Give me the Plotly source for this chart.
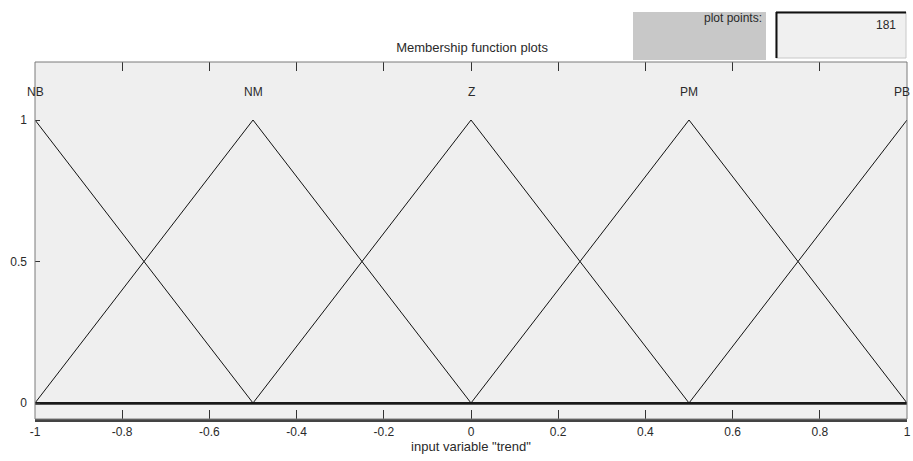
import plotly.graph_objects as go

# Membership functions (triangular) of input variable "trend"
mf_names = ["NB", "NM", "Z", "PM", "PB"]
mf_peaks = [-1.0, -0.5, 0.0, 0.5, 1.0]
# vertices of each membership curve over the input range [-1, 1]
mf_x = [
    [-1.0, -0.5, 1.0],
    [-1.0, -0.5, 0.0, 1.0],
    [-1.0, -0.5, 0.0, 0.5, 1.0],
    [-1.0, 0.0, 0.5, 1.0],
    [-1.0, 0.5, 1.0],
]
mf_y = [
    [1, 0, 0],
    [0, 1, 0, 0],
    [0, 0, 1, 0, 0],
    [0, 0, 1, 0],
    [0, 0, 1],
]
x_ticks = [-1, -0.8, -0.6, -0.4, -0.2, 0, 0.2, 0.4, 0.6, 0.8, 1]
x_tick_text = ["-1", "-0.8", "-0.6", "-0.4", "-0.2", "0", "0.2", "0.4", "0.6", "0.8", "1"]
y_ticks = [0, 0.5, 1]
y_tick_text = ["0", "0.5", "1"]
plot_points = 181

FONT = "Liberation Sans, Arial, sans-serif"
TXT = "#2a2a2a"

fig = go.Figure()
for name, xs, ys in zip(mf_names, mf_x, mf_y):
    fig.add_trace(go.Scatter(x=xs, y=ys, mode="lines", name=name,
                             line=dict(color="#111111", width=1), showlegend=False,
                             hoverinfo="skip", cliponaxis=False))
# invisible trace for top mirrored ticks
fig.add_trace(go.Scatter(x=[x_ticks[0], x_ticks[-1]], y=[0, 0], xaxis="x2", mode="lines",
                         line=dict(width=0), showlegend=False, hoverinfo="skip"))

for i, (name, pk) in enumerate(zip(mf_names, mf_peaks)):
    shift = -5 if i == len(mf_names) - 1 else 0
    fig.add_annotation(x=pk, y=1.1, text=name, showarrow=False, xanchor="center",
                       yanchor="middle", xshift=shift,
                       font=dict(family=FONT, size=12, color=TXT))

fig.update_layout(
    width=913, height=461,
    margin=dict(l=35, r=6, t=62, b=42, autoexpand=False),
    paper_bgcolor="white",
    plot_bgcolor="#efefef",
    font=dict(family=FONT, size=12, color=TXT),
    xaxis=dict(range=[-1, 1], tickvals=x_ticks, ticktext=x_tick_text,
               ticks="inside", ticklen=9, tickcolor="#333", tickwidth=1,
               showgrid=False, zeroline=False, showline=True, linecolor="#444",
               linewidth=3, mirror=False, automargin=False,
               tickfont=dict(family=FONT, size=12, color=TXT),
               title=dict(text='input variable "trend"', standoff=4,
                          font=dict(family=FONT, size=13, color=TXT))),
    xaxis2=dict(range=[-1, 1], overlaying="x", side="top", tickvals=x_ticks,
                showticklabels=False, ticks="inside", ticklen=9, tickcolor="#333",
                showgrid=False, zeroline=False, showline=False, automargin=False),
    yaxis=dict(range=[-0.0565, 1.205], tickvals=y_ticks, ticktext=y_tick_text,
               ticks="inside", ticklen=5, tickcolor="#333", automargin=False,
               ticklabelstandoff=7,
               tickfont=dict(family=FONT, size=12, color=TXT),
               showgrid=False, zeroline=True, zerolinecolor="#555", zerolinewidth=2.5,
               showline=False),
    title=dict(text="Membership function plots", x=0.517, xanchor="center",
               y=1 - 47 / 461, yanchor="middle", font=dict(family=FONT, size=13, color=TXT)),
)

# plot frame (thin gray border on left, top, right)
fig.add_shape(type="rect", xref="paper", yref="paper", x0=0, x1=1, y0=0, y1=1,
              line=dict(color="#7a7a7a", width=1), layer="above")

# "plot points:" gray label box and input field (in paper coordinates)
W, H = 913 - 35 - 6, 461 - 62 - 42
def px(x):
    return (x - 35) / W
def py(y):
    return (461 - 42 - y) / H

fig.add_shape(type="rect", xref="paper", yref="paper", x0=px(633), x1=px(766),
              y0=py(60), y1=py(12), fillcolor="#c8c8c8", line=dict(width=0))
fig.add_annotation(xref="paper", yref="paper", x=px(764), y=py(18), text="plot points:",
                   showarrow=False, xanchor="right", yanchor="middle",
                   font=dict(family=FONT, size=12, color=TXT))
fig.add_shape(type="rect", xref="paper", yref="paper", x0=px(776), x1=px(906),
              y0=py(58), y1=py(12), fillcolor="#f0f0f0", line=dict(color="#c8c8c8", width=1))
fig.add_shape(type="line", xref="paper", yref="paper", x0=px(776), x1=px(906),
              y0=py(12.5), y1=py(12.5), line=dict(color="#111", width=2))
fig.add_shape(type="line", xref="paper", yref="paper", x0=px(776.5), x1=px(776.5),
              y0=py(58), y1=py(12), line=dict(color="#111", width=2))
fig.add_annotation(xref="paper", yref="paper", x=px(898), y=py(25), text=str(plot_points),
                   showarrow=False, xanchor="right", yanchor="middle",
                   font=dict(family=FONT, size=12, color=TXT))

fig.write_html("out.html", config={"displayModeBar": False},
               post_script="document.body.style.margin='0';")
